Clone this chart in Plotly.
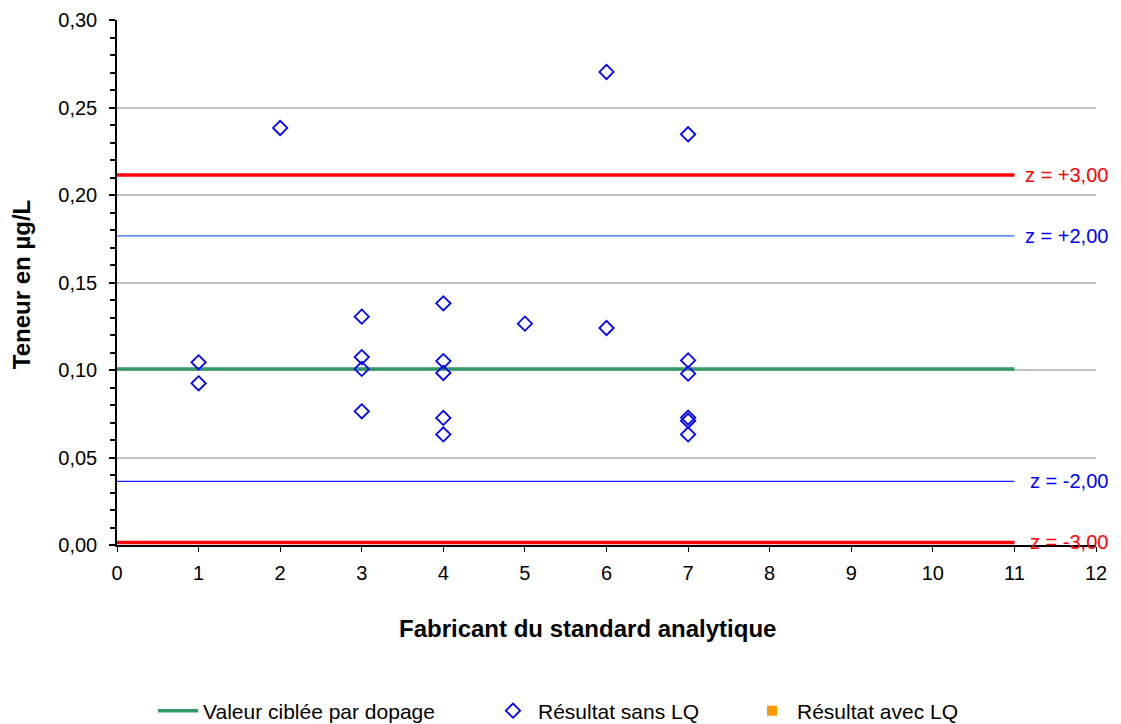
import plotly.graph_objects as go

# Data
fabricant = [1, 1, 2, 3, 3, 3, 3, 4, 4, 4, 4, 4, 5, 6, 6, 7, 7, 7, 7, 7, 7]
teneur = [0.1044, 0.0924, 0.2383, 0.1305, 0.1074, 0.1006, 0.0764,
          0.1381, 0.1051, 0.0983, 0.0726, 0.0632, 0.1265, 0.1240, 0.2703,
          0.2347, 0.1055, 0.0979, 0.0728, 0.0710, 0.0632]
valeur_cible = 0.1006
z_labels = ["z = +3,00", "z = +2,00", "z = -2,00", "z = -3,00"]
z_values = [0.2114, 0.1766, 0.0364, 0.0015]
z_colors = ["#ff0000", "#3366ee", "#1a1aff", "#ff0000"]
z_text_colors = ["#ff0000", "#0000ff", "#0000ff", "#ff0000"]
z_widths = [3.5, 1.3, 1.3, 3.5]
line_x = [0, 11]
x_ticks = list(range(0, 13))

FONT = "Liberation Sans, Arial, sans-serif"

fig = go.Figure()

for lab, v, c, w in zip(z_labels, z_values, z_colors, z_widths):
    fig.add_trace(go.Scatter(x=line_x, y=[v, v], mode="lines",
                             line=dict(color=c, width=w), showlegend=False,
                             hoverinfo="skip"))

fig.add_trace(go.Scatter(x=line_x, y=[valeur_cible, valeur_cible], mode="lines",
                         line=dict(color="#339966", width=3.5),
                         name="Valeur ciblée par dopage", legend="legend"))

fig.add_trace(go.Scatter(x=fabricant, y=teneur, mode="markers",
                         marker=dict(symbol="diamond-open", size=11, color="#0000ff",
                                     line=dict(color="#0000ff", width=1.8)),
                         name="Résultat sans LQ", legend="legend2"))

fig.add_trace(go.Scatter(x=[None], y=[None], mode="markers",
                         marker=dict(symbol="square", size=10, color="#ff9900"),
                         name="Résultat avec LQ", legend="legend3"))

annotations = []
for lab, v, c in zip(z_labels, z_values, z_text_colors):
    annotations.append(dict(x=1.0143, xref="paper", y=v, yref="y", text=lab,
                            showarrow=False, xanchor="right", yanchor="middle",
                            font=dict(color=c, size=20, family=FONT)))

annotations.append(dict(x=0.481, xref="paper", y=-(628 - 545) / 525, yref="paper",
                        text="<b>Fabricant du standard analytique</b>",
                        showarrow=False, xanchor="center", yanchor="middle",
                        font=dict(size=24, family=FONT, color="black")))
annotations.append(dict(x=-0.098, xref="paper", y=0.495, yref="paper",
                        text="<b>Teneur en µg/L</b>", textangle=-90,
                        showarrow=False, xanchor="center", yanchor="middle",
                        font=dict(size=24, family=FONT, color="black")))

leg_common = dict(orientation="h", xref="container", yref="container",
                  xanchor="left", y=(724 - 703) / 724, yanchor="middle",
                  font=dict(size=21, family=FONT), itemwidth=40,
                  bgcolor="rgba(0,0,0,0)")

fig.update_layout(
    width=1121, height=724,
    margin=dict(l=109, r=33, t=12, b=187, autoexpand=False),
    paper_bgcolor="white", plot_bgcolor="white",
    separators=", ",
    font=dict(family=FONT, size=20, color="black"),
    showlegend=True,
    legend=dict(x=145 / 1121, **leg_common),
    legend2=dict(x=480 / 1121, **leg_common),
    legend3=dict(x=739 / 1121, **leg_common),
    xaxis=dict(range=[0, 12], tickmode="array", tickvals=x_ticks,
               ticks="outside", ticklen=5, tickcolor="black", showgrid=False,
               showline=True, linecolor="black", linewidth=1.5, zeroline=False,
               ticklabelstandoff=4,
               tickfont=dict(size=20, family=FONT)),
    yaxis=dict(range=[0, 0.30], dtick=0.05, tickformat=".2f",
               ticks="outside", ticklen=6, tickcolor="black", tickwidth=1.5,
               showgrid=True, gridcolor="#c0c0c0", gridwidth=1.5,
               showline=True, linecolor="black", linewidth=1.5, zeroline=False,
               ticklabelstandoff=8,
               minor=dict(dtick=0.01, ticks="outside", ticklen=5, tickcolor="black", showgrid=False),
               tickfont=dict(size=20, family=FONT)),
    annotations=annotations,
)

fig.write_html("out.html")
